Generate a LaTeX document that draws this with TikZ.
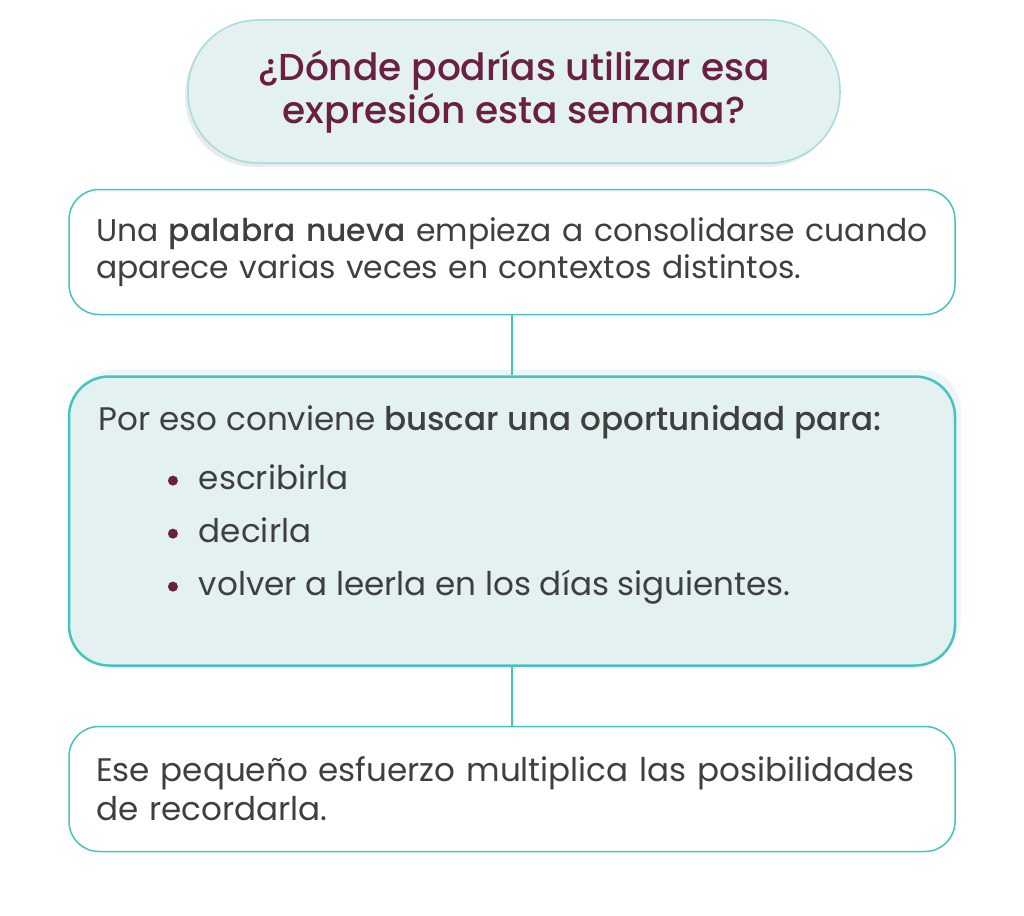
\documentclass[tikz,border=0pt]{standalone}
\usepackage{fontspec}
\setmainfont{Poppins}[BoldFont={Poppins Medium}]
\usetikzlibrary{positioning,shadows}
\definecolor{tealline}{HTML}{45C3BF}
\definecolor{pillline}{HTML}{A5DCD9}
\definecolor{lightfill}{HTML}{E3F1F1}
\definecolor{maroon}{HTML}{6B1F43}
\definecolor{textgray}{HTML}{3F3F3F}
\newcommand{\listdot}{\raisebox{0.22ex}{\tikz\fill[maroon] (0,0) circle (5pt);}}
\begin{document}
\begin{tikzpicture}[x=1pt,y=1pt,
    question/.style={
      rectangle,
      draw=pillline,
      line width=1.5pt,
      fill=lightfill,
      rounded corners=70pt,
      minimum width=652pt,
      minimum height=143pt,
      align=center,
      text=maroon,
      font=\fontsize{37.5}{43}\selectfont\bfseries,
      drop shadow={shadow xshift=-3pt, shadow yshift=-4pt, fill=black!20, opacity=0.4}},
    infobox/.style={rectangle, draw=tealline, line width=1.5pt, fill=white, rounded corners=30pt, minimum width=886pt, minimum height=125pt, text width=832pt, align=left, text=textgray, font=\fontsize{31.4}{37}\selectfont},
    bigbox/.style={infobox, fill=lightfill, line width=2.5pt, rounded corners=40pt, minimum height=289pt,
      copy shadow={shadow xshift=6pt, shadow yshift=7pt, fill=lightfill!60!white, draw=none}},
    listtext/.style={text=textgray, align=left, font=\fontsize{32.6}{38}\selectfont, inner sep=0pt},
    link/.style={draw=tealline, line width=1.5pt},
    node distance=27pt and 0pt
  ]
  \useasboundingbox (0,0) rectangle (1024,-915);

  \node[question] (q) at (514,-91.5) {¿Dónde podrías utilizar esa\\expresión esta semana?};

  \node[infobox, below=25pt of q, xshift=-2pt] (b1) {Una \textbf{palabra nueva} empieza a consolidarse cuando\\aparece varias veces en contextos distintos.};
  \node[bigbox, below=60pt of b1] (b2) {};
  \node[listtext, anchor=north west] (t2) at ([xshift=31pt,yshift=-30pt]b2.north west) {Por eso conviene \textbf{buscar una oportunidad para:}\\[21pt]
    \hspace*{69pt}\listdot\hspace*{21pt}escribirla\\[15pt]
    \hspace*{69pt}\listdot\hspace*{21pt}decirla\\[15pt]
    \hspace*{69pt}\listdot\hspace*{21pt}volver a leerla en los días siguientes.};
  \node[infobox, below=59pt of b2, font=\fontsize{32.6}{39}\selectfont] (b3) {Ese pequeño esfuerzo multiplica las posibilidades\\de recordarla.};

  \draw[link] (b1) -- (b2);
  \draw[link] (b2) -- (b3);
\end{tikzpicture}
\end{document}
